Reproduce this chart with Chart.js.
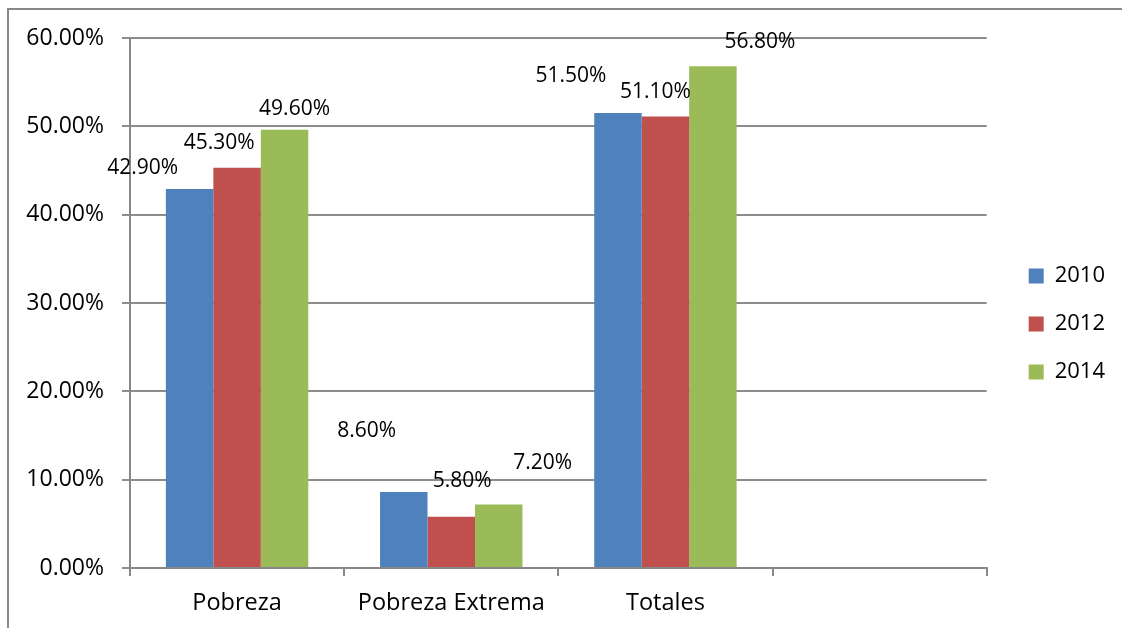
<!DOCTYPE html>
<html>
<head>
<meta charset="utf-8">
<script src="https://cdn.jsdelivr.net/npm/chart.js@4/dist/chart.umd.min.js"></script>
<style>
  body { margin: 0; background: #fff; }
  #wrap { position: relative; width: 1122px; height: 628px; overflow: hidden; }
  #frame {
    position: absolute; left: 7px; top: 8px; width: 1200px; height: 700px;
    border-left: 2px solid #888; border-top: 2px solid #888;
  }
  canvas { position: absolute; left: 0; top: 0; }
</style>
</head>
<body>
<div id="wrap">
  <div id="frame"></div>
  <canvas id="povertyChart" width="1122" height="628"></canvas>
</div>
<script>
// data
const categories = ["Pobreza", "Pobreza Extrema", "Totales", ""];
const years = ["2010", "2012", "2014"];
const values2010 = [42.9, 8.6, 51.5, null];
const values2012 = [45.3, 5.8, 51.1, null];
const values2014 = [49.6, 7.2, 56.8, null];
const yTicks = [0, 10, 20, 30, 40, 50, 60];

const colors = ["#4F81BD", "#C0504D", "#9BBB59"];
const font = "'Open Sans', Lato, sans-serif";

// label nudges (px from bar top centre), like the hand-moved excel labels
const labelNudge = [
  [[-47, -21], [-37, -61], [-47, -37]],
  [[-18, -25], [11, -36], [-10, -25]],
  [[10, -21], [44, -41], [47, -24]],
];

function pct(v) {
  return v.toFixed(2) + "%";
}

const dataLabels = {
  id: "dataLabels",
  afterDatasetsDraw(chart) {
    const ctx = chart.ctx;
    ctx.save();
    ctx.font = "21px " + font;
    ctx.fillStyle = "#000";
    ctx.textAlign = "center";
    ctx.textBaseline = "middle";
    chart.data.datasets.forEach((ds, i) => {
      chart.getDatasetMeta(i).data.forEach((bar, j) => {
        if (ds.data[j] == null) return;
        const [dx, dy] = labelNudge[i][j];
        ctx.fillText(pct(ds.data[j]), bar.x + dx, bar.y + dy);
      });
    });
    ctx.restore();
  },
};

const legendShift = {
  id: "legendShift",
  afterLayout(chart) {
    chart.legend.left += 16;
    chart.legend.right += 16;
    chart.legend.top -= 5;
    chart.legend.bottom -= 5;
  },
};

const ctx = document.getElementById("povertyChart").getContext("2d");
const povertyChart = new Chart(ctx, {
  type: "bar",
  data: {
    labels: categories,
    datasets: [values2010, values2012, values2014].map((vals, i) => ({
      label: years[i],
      data: vals,
      backgroundColor: colors[i],
      borderWidth: 0,
      categoryPercentage: 0.665,
      barPercentage: 1,
    })),
  },
  options: {
    responsive: false,
    animation: false,
    layout: { padding: { top: 38, left: 10, right: 23, bottom: 8 } },
    plugins: {
      legend: {
        position: "right",
        labels: {
          font: { family: font, size: 22 },
          color: "#000",
          boxWidth: 15,
          boxHeight: 15,
          padding: 26,
        },
      },
      tooltip: { enabled: false },
    },
    scales: {
      x: {
        afterFit(scale) {
          scale.height = 52;
        },
        border: { color: "#888", width: 2 },
        grid: {
          drawOnChartArea: false,
          drawTicks: true,
          tickLength: 8,
          color: "#888",
          lineWidth: 2,
        },
        ticks: {
          font: { family: font, size: 23.5 },
          color: "#000",
          padding: 13,
        },
      },
      y: {
        min: 0,
        max: 60,
        afterFit(scale) {
          scale.width = 120;
        },
        afterBuildTicks(scale) {
          scale.ticks = yTicks.map((v) => ({ value: v }));
        },
        border: { color: "#888", width: 2 },
        grid: {
          color: "#8c8c8c",
          lineWidth: 2,
          tickLength: 8,
        },
        ticks: {
          font: { family: font, size: 23 },
          color: "#000",
          padding: 18,
          callback: (v) => pct(v),
        },
      },
    },
  },
  plugins: [dataLabels, legendShift],
});
</script>
</body>
</html>
